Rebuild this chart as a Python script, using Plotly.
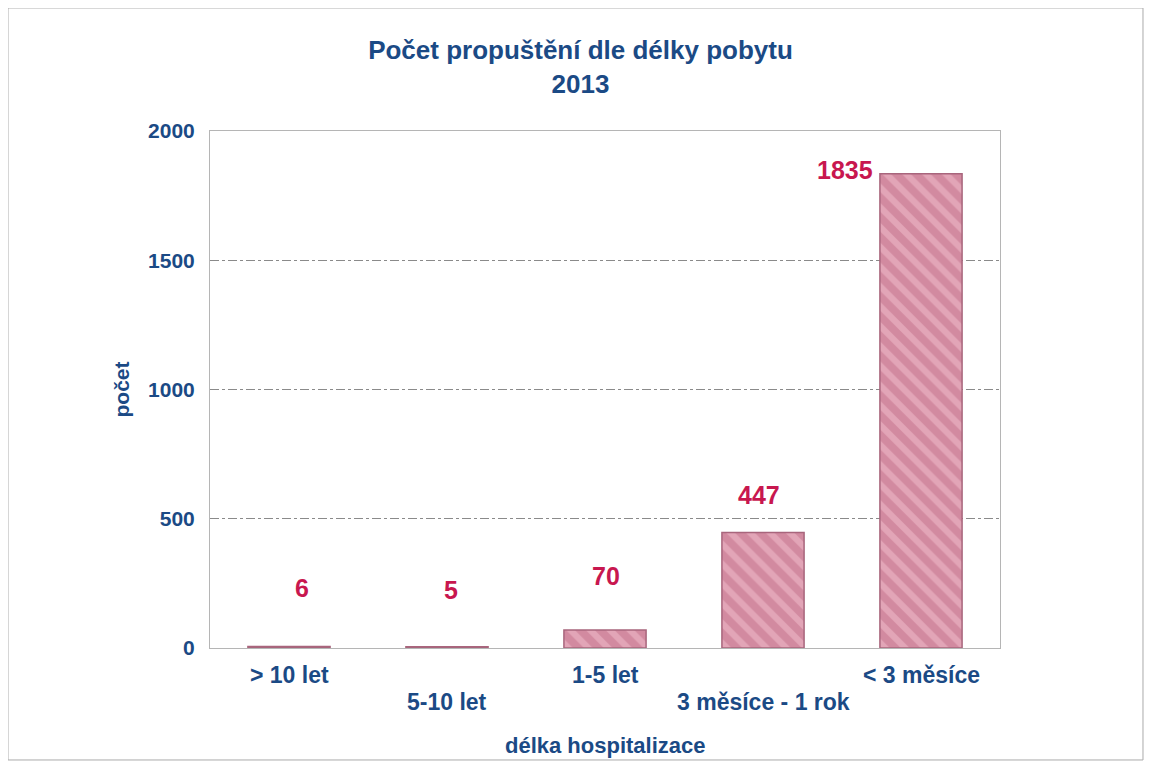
import plotly.graph_objects as go

categories = ["> 10 let", "5-10 let", "1-5 let", "3 měsíce - 1 rok", "< 3 měsíce"]
values = [6, 5, 70, 447, 1835]
y_ticks = [0, 500, 1000, 1500, 2000]

navy = "#1b4a85"
red = "#c8174f"
font_name = "Liberation Sans"

fig = go.Figure()
fig.add_trace(go.Bar(
    x=categories,
    y=values,
    width=0.52,
    marker=dict(
        color="#dc98ac",
        line=dict(color="#a8657c", width=1.5),
        pattern=dict(shape="\\", fgcolor="#f2bfcd", bgcolor="#d28aa0", size=14, solidity=0.45),
    ),
    hoverinfo="skip",
))

# value labels (offsets differ per bar as in the original)
label_shift = [58, 57, 54, 37, 4]
label_dx = [13, 4, 1, -4, -76]
for cat, val, dy, dx in zip(categories, values, label_shift, label_dx):
    fig.add_annotation(x=cat, y=val, text=str(val), showarrow=False,
                       yshift=dy, xshift=dx, yanchor="middle",
                       font=dict(size=25, color=red, family=font_name, weight="bold"))

# staggered category labels
for i, cat in enumerate(categories):
    fig.add_annotation(x=cat, y=0, text=cat, showarrow=False, yanchor="middle",
                       yshift=-27 if i % 2 == 0 else -54,
                       font=dict(size=23, color=navy, family=font_name, weight="bold"))

fig.add_annotation(x=0.5, xref="paper", y=-0.188, yref="paper", text="délka hospitalizace",
                   showarrow=False, yanchor="middle",
                   font=dict(size=22, color=navy, family=font_name, weight="bold"))

# outer frame
fig.add_shape(type="rect", xref="paper", yref="paper", x0=-0.2557, x1=1.181, y0=-0.2166, y1=1.238,
              line=dict(color="#aaaaaa", width=1))

fig.update_layout(
    width=1145, height=759,
    margin=dict(l=202, r=153, t=123, b=119),
    paper_bgcolor="white", plot_bgcolor="white",
    showlegend=False,
    title=dict(text="Počet propuštění dle délky pobytu<br>2013", x=0.5, xanchor="center",
               y=0.933, yanchor="top",
               font=dict(size=26, color=navy, family=font_name, weight="bold")),
    xaxis=dict(showticklabels=False, showgrid=False, showline=True, linecolor="#b5b5b5",
               mirror=True, ticks=""),
    yaxis=dict(range=[0, 2000], tickvals=y_ticks, showgrid=True, gridcolor="#8a8a8a",
               griddash="dashdot", gridwidth=1, showline=True, linecolor="#b5b5b5", mirror=True,
               zeroline=False, ticks="", ticklabelstandoff=10,
               tickfont=dict(size=21, color=navy, family=font_name, weight="bold"),
               title=dict(text="počet", standoff=12,
                          font=dict(size=21, color=navy, family=font_name, weight="bold"))),
)

fig.write_html("out.html")
